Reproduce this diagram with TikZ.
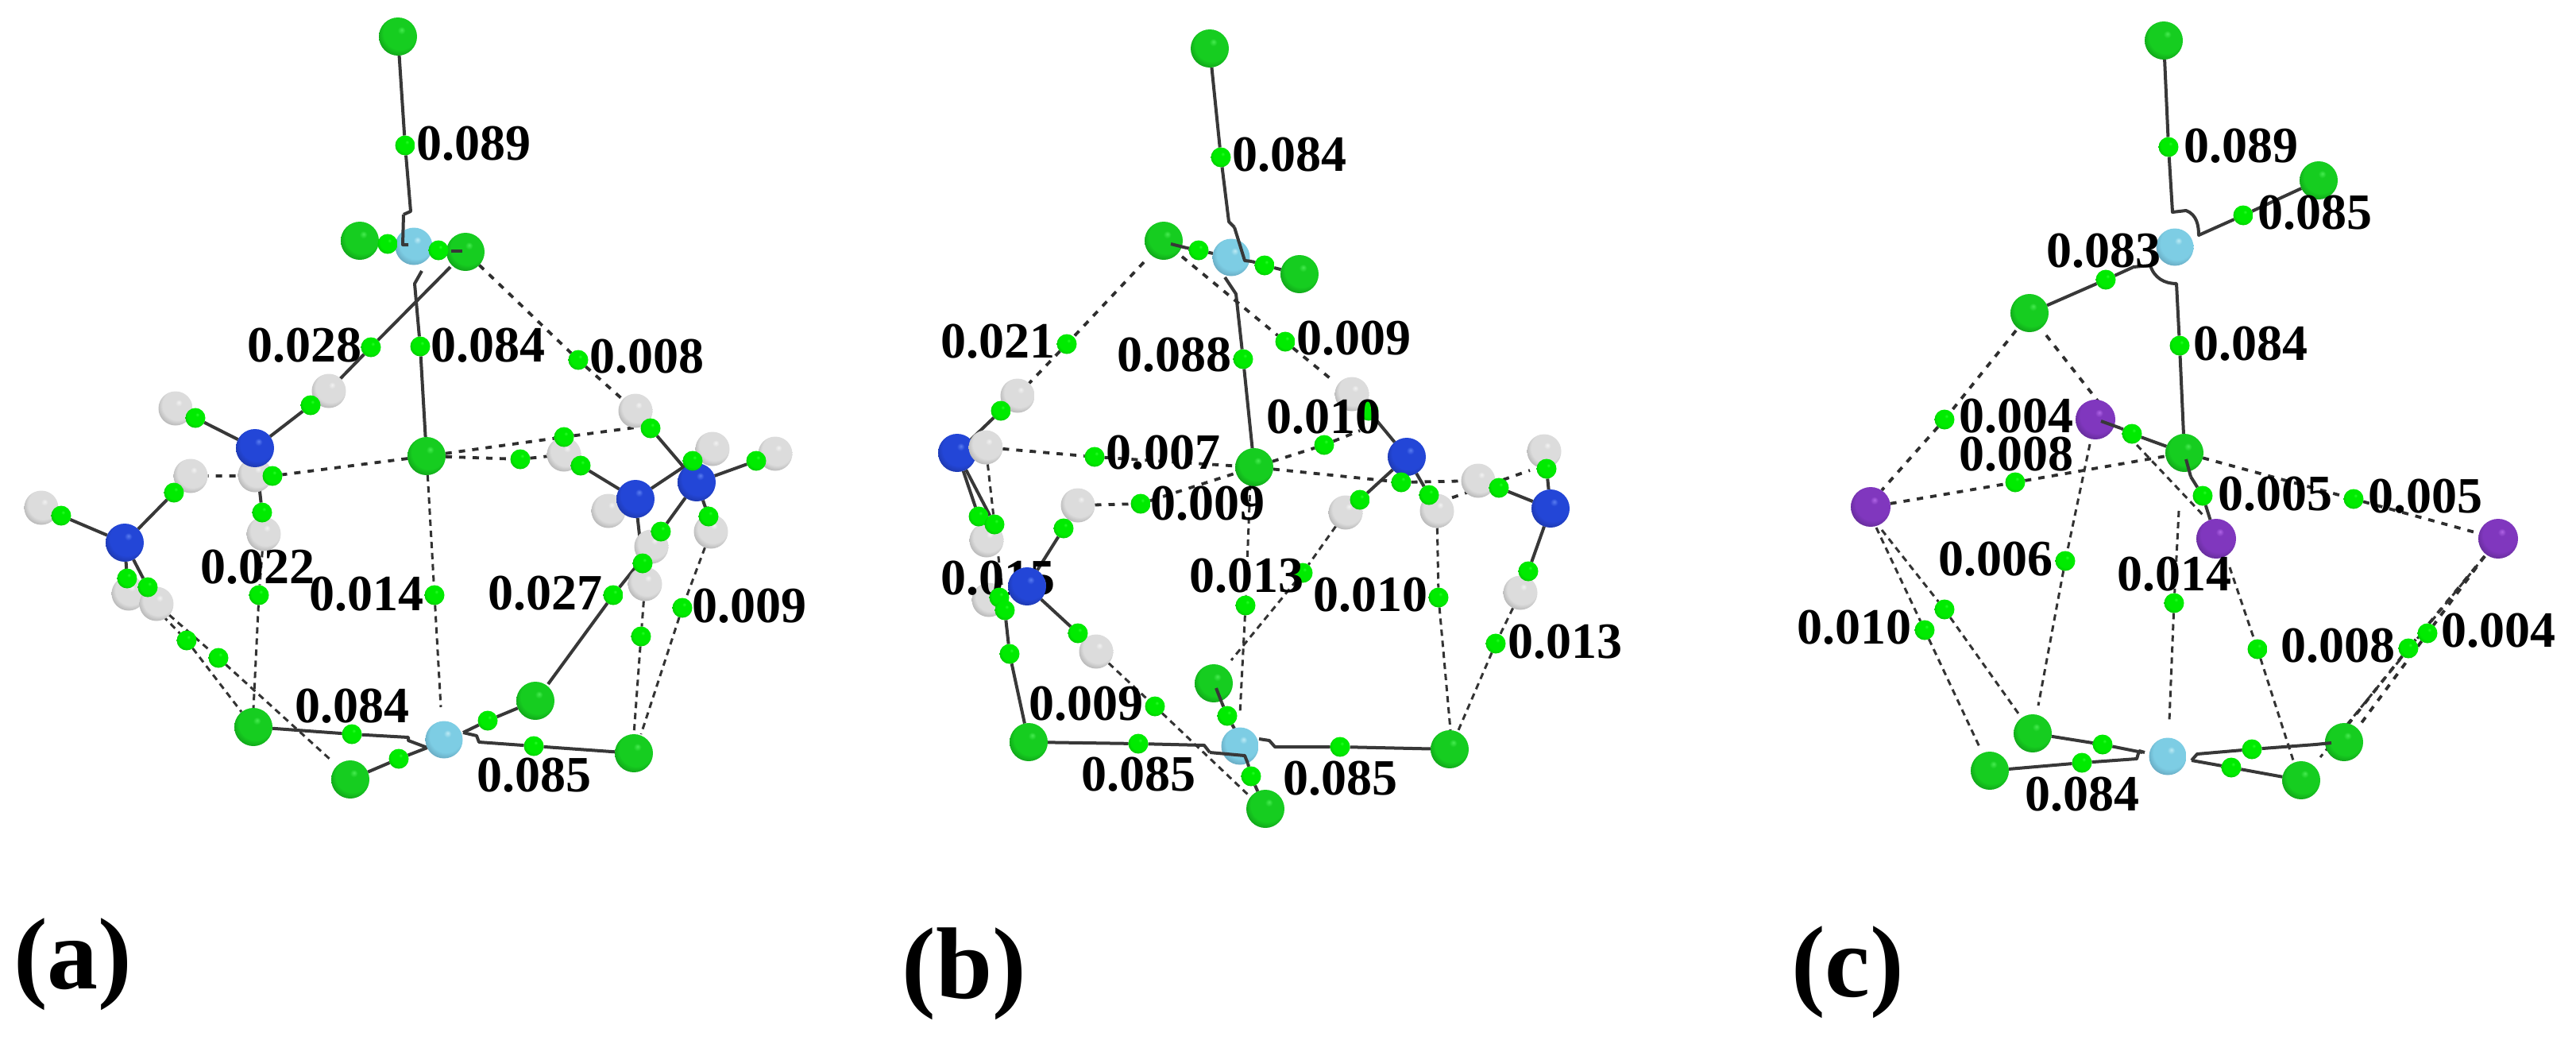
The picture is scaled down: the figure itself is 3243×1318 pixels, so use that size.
\documentclass[tikz,border=0pt]{standalone}
\usepackage{fontspec}
\setmainfont{Liberation Serif}
\usetikzlibrary{backgrounds}
\pgfdeclarelayer{background}
\pgfdeclarelayer{foreground}
\pgfsetlayers{background,main,foreground}
\definecolor{clhi}{RGB}{70,235,80}\definecolor{clmid}{RGB}{22,205,32}\definecolor{cldk}{RGB}{12,130,20}
\definecolor{cphi}{RGB}{40,255,40}\definecolor{cpmid}{RGB}{0,235,0}\definecolor{cpdk}{RGB}{0,170,0}
\definecolor{cohi}{RGB}{190,235,245}\definecolor{comid}{RGB}{125,205,228}\definecolor{codk}{RGB}{85,140,165}
\definecolor{nhi}{RGB}{90,125,240}\definecolor{nmid}{RGB}{35,70,215}\definecolor{ndk}{RGB}{25,45,140}
\definecolor{ihi}{RGB}{175,100,230}\definecolor{imid}{RGB}{128,55,190}\definecolor{idk}{RGB}{80,35,125}
\definecolor{hhi}{RGB}{242,242,242}\definecolor{hmid}{RGB}{220,220,220}\definecolor{hdk}{RGB}{150,150,150}
\newcommand\defball[4]{\pgfdeclareradialshading{#1}{\pgfpoint{5bp}{9bp}}{color(0bp)=(#2);color(5bp)=(#3);color(22bp)=(#3);color(36bp)=(#4);color(50bp)=(#4)}}
\defball{shCl}{clhi}{clmid}{cldk}
\defball{shCp}{cphi}{cpmid}{cpdk}
\defball{shCo}{cohi}{comid}{codk}
\defball{shN}{nhi}{nmid}{ndk}
\defball{shI}{ihi}{imid}{idk}
\defball{shH}{hhi}{hmid}{hdk}
\tikzset{
 atom/.style={circle,inner sep=0pt,outer sep=0pt,draw=none},
 cl/.style={atom,minimum size=24pt,shading=shCl},
 bp/.style={atom,minimum size=12.5pt,shading=shCp},
 co/.style={atom,minimum size=23.5pt,shading=shCo},
 nn/.style={atom,minimum size=24pt,shading=shN},
 ii/.style={atom,minimum size=25pt,shading=shI},
 hh/.style={atom,minimum size=21.5pt,shading=shH},
 lab/.style={inner sep=0pt,font=\fontsize{32pt}{32pt}\selectfont\bfseries},
 panel/.style={inner sep=0pt,font=\fontsize{64pt}{64pt}\selectfont\bfseries},
 sb/.style={draw=black!78,line width=2pt,line join=round},
 db/.style={draw=black!82,line width=1.9pt,dash pattern=on 4pt off 4.5pt},
 dt/.style={draw=black!80,line width=1.5pt,dash pattern=on 4pt off 3pt},
}
\begin{document}
\begin{tikzpicture}[x=0.5pt,y=-0.5pt]
\useasboundingbox (0,0) rectangle (3243,1318);
%% ---------- panel a: atoms
\node[hh] (aH1) at (414,492) {};
\node[hh] (aH2) at (221,514) {};
\node[hh] (aH3) at (240,599) {};
\node[hh] (aH4) at (52,639) {};
\node[hh] (aH5) at (332,672) {};
\node[hh] (aH6) at (162,747) {};
\node[hh] (aH7) at (197,760) {};
\node[hh] (aH8) at (800,517) {};
\node[hh] (aH9) at (710,572) {};
\node[hh] (aH10) at (897,565) {};
\node[hh] (aH11) at (976,571) {};
\node[hh] (aH12) at (895,669) {};
\node[hh] (aH13) at (766,643) {};
\node[hh] (aH14) at (820,688) {};
\node[hh] (aH15) at (812,735) {};
\node[hh] (aH16) at (321,598) {};
\node[nn] (aN1) at (321,564) {};
\node[nn] (aN2) at (157,683) {};
\node[nn] (aN3) at (800,628) {};
\node[nn] (aN4) at (877,607) {};
\node[cl] (aC1) at (501,46) {};
\node[cl] (aC2) at (453,303) {};
\node[cl] (aC3) at (586,317) {};
\node[cl] (aC4) at (537,574) {};
\node[cl] (aC5) at (319,915) {};
\node[cl] (aC6) at (441,981) {};
\node[cl] (aC7) at (674,882) {};
\node[cl] (aC8) at (798,948) {};
\node[co] (aCo1) at (521,310) {};
\node[co] (aCo2) at (559,931) {};
\node[bp] (ap1) at (510,183) {};
\node[bp] (ap2) at (488,307) {};
\node[bp] (ap3) at (552,315) {};
\node[bp] (ap4) at (529,436) {};
\node[bp] (ap5) at (467,437) {};
\node[bp] (ap6) at (728,453) {};
\node[bp] (ap7) at (391,510) {};
\node[bp] (ap8) at (246,526) {};
\node[bp] (ap9) at (343,599) {};
\node[bp] (ap10) at (219,620) {};
\node[bp] (ap11) at (77,649) {};
\node[bp] (ap12) at (330,645) {};
\node[bp] (ap13) at (160,728) {};
\node[bp] (ap14) at (186,739) {};
\node[bp] (ap15) at (235,806) {};
\node[bp] (ap16) at (275,828) {};
\node[bp] (ap17) at (326,749) {};
\node[bp] (ap18) at (547,749) {};
\node[bp] (ap19) at (819,539) {};
\node[bp] (ap20) at (710,550) {};
\node[bp] (ap21) at (655,578) {};
\node[bp] (ap22) at (731,586) {};
\node[bp] (ap23) at (872,580) {};
\node[bp] (ap24) at (952,580) {};
\node[bp] (ap25) at (892,650) {};
\node[bp] (ap26) at (832,669) {};
\node[bp] (ap27) at (809,709) {};
\node[bp] (ap28) at (772,749) {};
\node[bp] (ap29) at (807,801) {};
\node[bp] (ap30) at (859,765) {};
\node[bp] (ap31) at (443,924) {};
\node[bp] (ap32) at (502,955) {};
\node[bp] (ap33) at (614,907) {};
\node[bp] (ap34) at (672,939) {};
%% ---------- panel b: atoms
\node[hh] (bH1) at (1281,498) {};
\node[nn] (bN1) at (1205,570) {};
\node[hh] (bH2) at (1241,563) {};
\node[hh] (bH3) at (1242,680) {};
\node[hh] (bH4) at (1245,755) {};
\node[hh] (bH5) at (1357,636) {};
\node[hh] (bH6) at (1380,820) {};
\node[hh] (bH7) at (1702,496) {};
\node[hh] (bH8) at (1694,645) {};
\node[hh] (bH9) at (1809,643) {};
\node[hh] (bH10) at (1861,605) {};
\node[hh] (bH11) at (1944,568) {};
\node[hh] (bH12) at (1914,746) {};
\node[lab] (bL14) at (1256,728) {0.015};
\node[nn] (bN2) at (1293,738) {};
\node[nn] (bN3) at (1771,575) {};
\node[nn] (bN4) at (1952,640) {};
\node[cl] (bC1) at (1523,61) {};
\node[cl] (bC2) at (1465,303) {};
\node[cl] (bC3) at (1636,345) {};
\node[cl] (bC4) at (1579,588) {};
\node[cl] (bC5) at (1295,934) {};
\node[cl] (bC6) at (1528,860) {};
\node[cl] (bC7) at (1825,943) {};
\node[cl] (bC8) at (1593,1018) {};
\node[co] (bCo1) at (1550,324) {};
\node[co] (bCo2) at (1561,939) {};
\node[bp] (bp1) at (1537,198) {};
\node[bp] (bp2) at (1509,315) {};
\node[bp] (bp3) at (1592,334) {};
\node[bp] (bp4) at (1565,452) {};
\node[bp] (bp5) at (1343,433) {};
\node[bp] (bp6) at (1618,430) {};
\node[bp] (bp7) at (1260,517) {};
\node[bp] (bp8) at (1723,517) {};
\node[bp] (bp9) at (1667,560) {};
\node[bp] (bp10) at (1378,575) {};
\node[bp] (bp11) at (1764,607) {};
\node[bp] (bp12) at (1799,623) {};
\node[bp] (bp13) at (1712,629) {};
\node[bp] (bp14) at (1887,614) {};
\node[bp] (bp15) at (1947,590) {};
\node[bp] (bp16) at (1232,650) {};
\node[bp] (bp17) at (1252,660) {};
\node[bp] (bp18) at (1436,634) {};
\node[bp] (bp19) at (1339,665) {};
\node[bp] (bp20) at (1258,752) {};
\node[bp] (bp21) at (1265,768) {};
\node[bp] (bp22) at (1271,823) {};
\node[bp] (bp23) at (1357,797) {};
\node[bp] (bp24) at (1454,889) {};
\node[bp] (bp25) at (1433,936) {};
\node[bp] (bp26) at (1575,977) {};
\node[bp] (bp27) at (1545,901) {};
\node[bp] (bp28) at (1687,940) {};
\node[bp] (bp29) at (1568,762) {};
\node[bp] (bp30) at (1640,721) {};
\node[bp] (bp31) at (1811,752) {};
\node[bp] (bp32) at (1924,719) {};
\node[bp] (bp33) at (1883,810) {};
%% ---------- panel c: atoms
\node[cl] (cC1) at (2724,51) {};
\node[cl] (cC2) at (2919,227) {};
\node[cl] (cC3) at (2555,394) {};
\node[cl] (cC4) at (2750,570) {};
\node[cl] (cC5) at (2559,923) {};
\node[cl] (cC6) at (2505,970) {};
\node[cl] (cC7) at (2951,934) {};
\node[cl] (cC8) at (2897,982) {};
\node[ii] (cI1) at (2355,638) {};
\node[ii] (cI2) at (2638,528) {};
\node[ii] (cI3) at (2790,678) {};
\node[ii] (cI4) at (3145,678) {};
\node[co] (cCo1) at (2738,311) {};
\node[co] (cCo2) at (2729,952) {};
\node[bp] (cp1) at (2730,185) {};
\node[bp] (cp2) at (2824,271) {};
\node[bp] (cp3) at (2651,352) {};
\node[bp] (cp4) at (2744,435) {};
\node[bp] (cp5) at (2448,528) {};
\node[bp] (cp6) at (2684,546) {};
\node[bp] (cp7) at (2537,607) {};
\node[bp] (cp8) at (2773,624) {};
\node[bp] (cp9) at (2963,628) {};
\node[bp] (cp10) at (2600,706) {};
\node[bp] (cp11) at (2737,759) {};
\node[bp] (cp12) at (2423,793) {};
\node[bp] (cp13) at (2448,767) {};
\node[bp] (cp14) at (2842,817) {};
\node[bp] (cp15) at (3056,797) {};
\node[bp] (cp16) at (3032,816) {};
\node[bp] (cp17) at (2647,937) {};
\node[bp] (cp18) at (2621,960) {};
\node[bp] (cp19) at (2835,943) {};
\node[bp] (cp20) at (2809,966) {};
%% ---------- kink points
\coordinate (ak1) at (517,266);\coordinate (ak2) at (508,270);\coordinate (ak3) at (507,308);\coordinate (ak4) at (514,308);
\coordinate (ak5) at (531,341);\coordinate (ak6) at (522,357);
\coordinate (ak7) at (567,336);\coordinate (ak8) at (428,477);
\coordinate (ak9) at (514,928);\coordinate (ak10) at (514,932);\coordinate (ak11) at (538,941);
\coordinate (ak12) at (603,934);\coordinate (ak13) at (600,926);\coordinate (ak14) at (583,922);
\coordinate (ak16) at (690,861);\coordinate (ak17) at (800,714);
\coordinate (ad1) at (304,896);\coordinate (ad2) at (417,957);\coordinate (ad3) at (319,893);
\coordinate (ad4) at (555,890);\coordinate (ad5) at (798,924);\coordinate (ad6) at (807,924);
\coordinate (ad8) at (205,775);\coordinate (ad9) at (800,538);
\coordinate (af1) at (568,316);\coordinate (af2) at (582,316);
\coordinate (bk1) at (1547,279);\coordinate (bk2) at (1554,286);\coordinate (bk3) at (1567,328);\coordinate (bk3b) at (1576,329);
\coordinate (bk4) at (1542,349);\coordinate (bk5) at (1556,370);\coordinate (bk6) at (1474,307);\coordinate (bk6b) at (1494,312);
\coordinate (bk7) at (1516,938);\coordinate (bk8) at (1523,947);\coordinate (bk9) at (1567,951);\coordinate (bk10) at (1571,961);
\coordinate (bk11) at (1605,940);\coordinate (bk12) at (1598,932);\coordinate (bk13) at (1585,930);
\coordinate (bk14) at (1554,917);\coordinate (bk15) at (1531,866);\coordinate (bk16) at (1538,884);
\coordinate (bd1) at (1295,483);\coordinate (bd2) at (1440,330);\coordinate (bd3) at (1488,323);\coordinate (bd4) at (1678,479);
\coordinate (bd5) at (1571,1000);\coordinate (bd6) at (1561,898);\coordinate (bd7) at (1550,831);
\coordinate (bd8) at (1826,919);\coordinate (bd9) at (1836,919);\coordinate (bd10) at (1926,592);\coordinate (bd11) at (1812,632);
\coordinate (bd12) at (1712,542);\coordinate (bd13) at (1574,609);
\coordinate (ck1) at (2735,267);\coordinate (ck2) at (2752,265);\coordinate (ck3) at (2768,296);
\coordinate (ck4) at (2686,336);\coordinate (ck5) at (2707,334);\coordinate (ck6) at (2740,357);
\coordinate (ck7) at (2697,947);\coordinate (ck8) at (2690,955);\coordinate (ck9) at (2693,945);\coordinate (ck10) at (2700,947);
\coordinate (ck11) at (2766,949);\coordinate (ck12) at (2759,957);
\coordinate (cd1) at (2369,617);\coordinate (cd2) at (2576,422);\coordinate (cd3) at (2642,506);\coordinate (cd4) at (2538,416);
\coordinate (cd5) at (2566,888);\coordinate (cd6) at (2690,560);\coordinate (cd7) at (2776,651);\coordinate (cd8) at (2731,907);
\coordinate (cd9) at (2887,957);\coordinate (cd10) at (2969,915);\coordinate (cd11) at (2955,913);\coordinate (cd12) at (2921,953);
\coordinate (cd13) at (2492,940);\coordinate (cd14) at (2541,898);\coordinate (cd15) at (2743,643);\coordinate (cd16) at (3128,700);
\coordinate (cd17) at (2369,667);\coordinate (cd18) at (2362,664);\coordinate (cd19) at (2807,714);\coordinate (cd20) at (2631,559);
\coordinate (cf1) at (2645,530);\coordinate (cf2) at (2670,539);\coordinate (cf3) at (2752,578);\coordinate (cf4) at (2758,600);
\coordinate (cf5) at (2935,935);\coordinate (cf6) at (2915,937);
%% ---------- bonds (behind the atoms)
\begin{pgfonlayer}{background}
% panel a
\draw[sb] (aC1) -- (ap1) -- (ak1) -- (ak2);
\draw[sb] (aC2) -- (ap2) -- (aCo1) -- (ap3) -- (aC3);
\draw[sb] (ak5) -- (ak6) -- (ap4) -- (aC4);
\draw[sb] (ak7) -- (ap5) -- (ak8);
\draw[sb] (aH1) -- (ap7) -- (aN1) -- (ap8) -- (aH2);
\draw[sb] (aN1) -- (ap12) -- (aH5);
\draw[sb] (aH3) -- (ap10) -- (aN2) -- (ap11) -- (aH4);
\draw[sb] (aN2) -- (ap13) -- (aH6);
\draw[sb] (aN2) -- (ap14) -- (aH7);
\draw[sb] (aH8) -- (ap19) -- (aN4) -- (ap24) -- (aH11);
\draw[sb] (aH9) -- (ap22) -- (aN3) -- (ap23) -- (aH10);
\draw[sb] (aN4) -- (ap25) -- (aH12);
\draw[sb] (aN4) -- (ap26) -- (aH14);
\draw[sb] (aN3) -- (ap27) -- (aH15);
\draw[sb] (ak16) -- (ap28) -- (ak17);
\draw[sb] (aC5) -- (ap31) -- (ak9) -- (ak10) -- (ak11);
\draw[sb] (aC6) -- (ap32) -- (ak11);
\draw[sb] (aC7) -- (ap33) -- (ak14);
\draw[sb] (aC8) -- (ap34) -- (ak12) -- (ak13) -- (ak14);
\draw[db] (aC3) -- (ap6) -- (aH8);
\draw[db] (aC4) -- (ap20) -- (ad9);
\draw[db] (aC4) -- (ap21) -- (aH9);
\draw[db] (aC4) -- (ap9) -- (aH3);
\draw[dt] (aC4) -- (ap18) -- (ad4);
\draw[dt] (ad8) -- (ap15) -- (ad1);
\draw[dt] (aH7) -- (ap16) -- (ad2);
\draw[dt] (aH5) -- (ap17) -- (ad3);
\draw[dt] (aH15) -- (ap29) -- (ad5);
\draw[dt] (aH12) -- (ap30) -- (ad6);
% panel b
\draw[sb] (bC1) -- (bp1) -- (bk1) -- (bk2);
\draw[sb] (bk3b) -- (bp3) -- (bC3);
\draw[sb] (bk6b) -- (bp2) -- (bCo1);
\draw[sb] (bk4) -- (bk5) -- (bp4) -- (bC4);
\draw[sb] (bH1) -- (bp7) -- (bN1);
\draw[sb] (bH7) -- (bp8) -- (bN3);
\draw[sb] (bN3) -- (bp12) -- (bH9);
\draw[sb] (bN3) -- (bp13) -- (bH8);
\draw[sb] (bN3) -- (bp11);
\draw[sb] (bH10) -- (bp14) -- (bN4) -- (bp15) -- (bH11);
\draw[sb] (bN1) -- (bp16);
\draw[sb] (bN1) -- (bp17);
\draw[sb] (bN2) -- (bp19) -- (bH5);
\draw[sb] (bN2) -- (bp20);
\draw[sb] (bN2) -- (bp23) -- (bH6);
\draw[sb] (bp21) -- (bp22) -- (bC5);
\draw[sb] (bC5) -- (bp25) -- (bk7) -- (bk8);
\draw[sb] (bk10) -- (bp26) -- (bC8);
\draw[sb] (bk16) -- (bp27) -- (bk14);
\draw[sb] (bC7) -- (bp28) -- (bk11) -- (bk12) -- (bk13);
\draw[sb] (bN4) -- (bp32) -- (bH12);
\draw[db] (bd2) -- (bp5) -- (bd1);
\draw[db] (bd3) -- (bp6) -- (bd4);
\draw[db] (bC4) -- (bp9) -- (bd12);
\draw[db] (bH2) -- (bp10) -- (bC4);
\draw[db] (bC4) -- (bp11) -- (bH10);
\draw[db] (bd11) -- (bd10);
\draw[db] (bH5) -- (bp18) -- (bC4);
\draw[dt] (bH2) -- (bp17);
\draw[dt] (bp17) -- (bp21);
\draw[dt] (bH6) -- (bp24) -- (bd5);
\draw[dt] (bd13) -- (bp29) -- (bd6);
\draw[dt] (bH8) -- (bp30) -- (bd7);
\draw[dt] (bH9) -- (bp31) -- (bd8);
\draw[dt] (bH12) -- (bp33) -- (bd9);
% panel c
\draw[sb] (cC1) -- (cp1) -- (ck1) -- (ck2) .. controls (2766,270) and (2768,285) .. (ck3) -- (cp2) -- (cC2);
\draw[sb] (cC3) -- (cp3) -- (ck4) -- (ck5) .. controls (2712,350) and (2725,357) .. (ck6) -- (cp4) -- (cC4);
\draw[sb] (cf2) -- (cp6) -- (cC4);
\draw[sb] (cf4) -- (cp8) -- (cI3);
\draw[sb] (cC5) -- (cp17) -- (ck7);
\draw[sb] (cC6) -- (cp18) -- (ck8) -- (ck9) -- (ck10);
\draw[sb] (cf6) -- (cp19) -- (ck11) -- (ck12);
\draw[sb] (cC8) -- (cp20) -- (ck12);
\draw[db] (cd4) -- (cp5) -- (cd1);
\draw[db] (cd2) -- (cd3);
\draw[db] (cI1) -- (cp7) -- (cC4);
\draw[db] (cC4) -- (cp9) -- (cI4);
\draw[dt] (cd6) -- (cd7);
\draw[dt] (cd20) -- (cp10) -- (cd5);
\draw[dt] (cd15) -- (cp11) -- (cd8);
\draw[dt] (cd19) -- (cp14) -- (cd9);
\draw[dt] (cd18) -- (cp12) -- (cd13);
\draw[dt] (cd17) -- (cp13) -- (cd14);
\draw[db] (cd16) -- (cp15) -- (cd10);
\draw[db] (cd16) -- (cp16) -- (cd11);
\draw[dt] (cd16) -- (cd12);
\end{pgfonlayer}
%% ---------- bond ends that lie over the atoms, then labels
\begin{pgfonlayer}{foreground}
\draw[sb] (ak2) -- (ak3) -- (ak4);
\draw[sb] (af1) -- (af2);
\draw[sb] (bk2) -- (bk3) -- (bk3b);
\draw[sb] (bk6) -- (bk6b);
\draw[sb] (bk8) -- (bk9) -- (bk10);
\draw[sb] (bk15) -- (bk16);
\draw[sb] (cf1) -- (cf2);
\draw[sb] (cf3) -- (cf4);
\draw[sb] (cf5) -- (cf6);
\node[lab] (aL1) at (596,181) {0.089};
\node[lab] (aL2) at (383,435) {0.028};
\node[lab] (aL3) at (614,435) {0.084};
\node[lab] (aL4) at (814,449) {0.008};
\node[lab] (aL5) at (324,714) {0.022};
\node[lab] (aL6) at (461,748) {0.014};
\node[lab] (aL7) at (686,747) {0.027};
\node[lab] (aL8) at (943,763) {0.009};
\node[lab] (aL9) at (443,889) {0.084};
\node[lab] (aL10) at (672,976) {0.085};
\node[panel] (aP) at (92,1214) {(a)};
\node[lab] (bL1) at (1623,195) {0.084};
\node[lab] (bL2) at (1256,430) {0.021};
\node[lab] (bL3) at (1478,447) {0.088};
\node[lab] (bL4) at (1704,426) {0.009};
\node[lab] (bL5) at (1666,525) {0.010};
\node[lab] (bL6) at (1464,570) {0.007};
\node[lab] (bL7) at (1520,634) {0.009};
\node[lab] (bL8) at (1569,725) {0.013};
\node[lab] (bL9) at (1725,749) {0.010};
\node[lab] (bL10) at (1970,808) {0.013};
\node[lab] (bL11) at (1367,886) {0.009};
\node[lab] (bL12) at (1433,975) {0.085};
\node[lab] (bL13) at (1687,980) {0.085};
\node[panel] (bP) at (1214,1226) {(b)};
\node[lab] (cL1) at (2821,184) {0.089};
\node[lab] (cL2) at (2914,268) {0.085};
\node[lab] (cL3) at (2648,316) {0.083};
\node[lab] (cL4) at (2833,433) {0.084};
\node[lab] (cL5) at (2538,524) {0.004};
\node[lab] (cL6) at (2538,572) {0.008};
\node[lab] (cL7) at (2864,622) {0.005};
\node[lab] (cL8) at (3053,625) {0.005};
\node[lab] (cL9) at (2512,704) {0.006};
\node[lab] (cL10) at (2737,723) {0.014};
\node[lab] (cL11) at (2334,790) {0.010};
\node[lab] (cL12) at (2943,813) {0.008};
\node[lab] (cL13) at (3145,794) {0.004};
\node[lab] (cL14) at (2621,1000) {0.084};
\node[panel] (cP) at (2326,1224) {(c)};
\end{pgfonlayer}
\end{tikzpicture}
\end{document}
